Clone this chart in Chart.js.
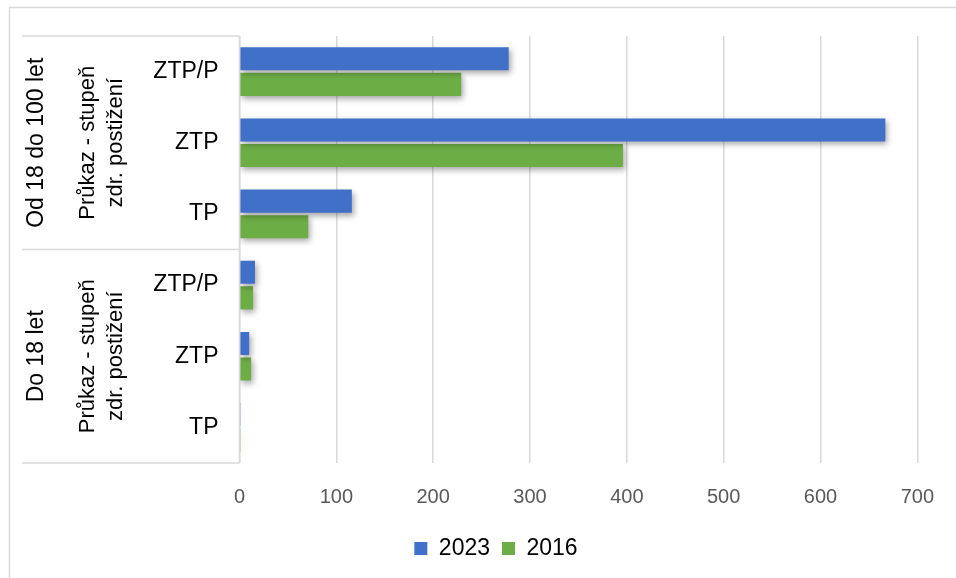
<!DOCTYPE html>
<html>
<head>
<meta charset="utf-8">
<script src="https://cdn.jsdelivr.net/npm/chart.js@4.4.0/dist/chart.umd.min.js"></script>
<style>
  html, body { margin: 0; padding: 0; background: #fff; }
  #wrap { width: 956px; height: 578px; }
</style>
</head>
<body>
<div id="wrap"><canvas id="myChart" width="956" height="578"></canvas></div>
<script>
// kategorie (shora dolů)
const categories = ['ZTP/P', 'ZTP', 'TP', 'ZTP/P', 'ZTP', 'TP'];
const groups = ['Od 18 do 100 let', 'Do 18 let'];
const subGroup = ['Průkaz - stupeň', 'zdr. postižení'];
// hodnoty
const values2023 = [278, 667, 116, 16, 10, 0.5];
const values2016 = [229, 396, 71, 14, 12, 0.3];
const xTicks = [0, 100, 200, 300, 400, 500, 600, 700];

const FONT = "'Liberation Sans', Arial, sans-serif";

// stín pod sloupci (jako v Excelu)
const shadowPlugin = {
  id: 'shadow',
  beforeDatasetsDraw(chart) {
    const c = chart.ctx;
    c.save();
    c.shadowColor = 'rgba(0,0,0,0.35)';
    c.shadowBlur = 6;
    c.shadowOffsetX = 2;
    c.shadowOffsetY = 3;
  },
  afterDatasetsDraw(chart) {
    chart.ctx.restore();
  }
};

// rámeček + víceúrovňové popisky osy Y
const groupAxisPlugin = {
  id: 'groupAxis',
  beforeDraw(chart) {
    const c = chart.ctx;
    c.save();
    c.strokeStyle = '#d9d9d9';
    c.lineWidth = 1.5;
    c.strokeRect(9.5, 7.5, 970, 600);
    c.restore();
  },
  afterDraw(chart) {
    const c = chart.ctx;
    const area = chart.chartArea;
    const left = 22;
    const right = area.left;
    const band = (area.bottom - area.top) / 2;
    c.save();
    c.strokeStyle = '#d9d9d9';
    c.lineWidth = 1.5;
    c.beginPath();
    [area.top, area.top + band, area.bottom].forEach(yy => {
      c.moveTo(left, yy);
      c.lineTo(right, yy);
    });
    c.moveTo(right, area.top);
    c.lineTo(right, area.bottom);
    c.stroke();

    c.fillStyle = '#000';
    c.textAlign = 'center';
    c.textBaseline = 'middle';
    groups.forEach((g, i) => {
      const cy = area.top + band * (i + 0.5);
      c.save();
      c.translate(37, cy);
      c.rotate(-Math.PI / 2);
      c.font = '23px ' + FONT;
      c.fillText(g, 0, 0);
      c.font = '22px ' + FONT;
      c.fillText(subGroup[0], 0, 51);
      c.fillText(subGroup[1], 0, 79);
      c.restore();
    });
    c.restore();
  }
};

const ctx = document.getElementById('myChart').getContext('2d');

const myChart = new Chart(ctx, {
  type: 'bar',
  data: {
    labels: categories,
    datasets: [{
      label: '2023',
      data: values2023,
      backgroundColor: '#4170C8',
      categoryPercentage: 0.72,
      barPercentage: 0.9
    }, {
      label: '2016',
      data: values2016,
      backgroundColor: '#6DAD46',
      categoryPercentage: 0.72,
      barPercentage: 0.9
    }]
  },
  options: {
    indexAxis: 'y',
    responsive: false,
    animation: false,
    layout: { padding: { top: 36, right: 34, bottom: 8, left: 70 } },
    scales: {
      x: {
        min: 0,
        max: 700,
        afterBuildTicks(scale) { scale.ticks = xTicks.map(v => ({ value: v })); },
        grid: { color: '#d9d9d9', lineWidth: 1.5, drawTicks: false },
        border: { display: false },
        ticks: { color: '#595959', font: { family: FONT, size: 20 }, padding: 22 },
        afterFit(scale) { scale.height = 62; }
      },
      y: {
        grid: { display: false, drawTicks: false },
        border: { display: false },
        ticks: { color: '#000', font: { family: FONT, size: 23 }, padding: 21 },
        afterFit(scale) { scale.width = 169.5; }
      }
    },
    plugins: {
      legend: {
        position: 'bottom',
        labels: {
          color: '#000',
          font: { family: FONT, size: 23 },
          boxWidth: 13,
          boxHeight: 13,
          padding: 12
        }
      },
      tooltip: { enabled: false }
    }
  },
  plugins: [shadowPlugin, groupAxisPlugin]
});
</script>
</body>
</html>
